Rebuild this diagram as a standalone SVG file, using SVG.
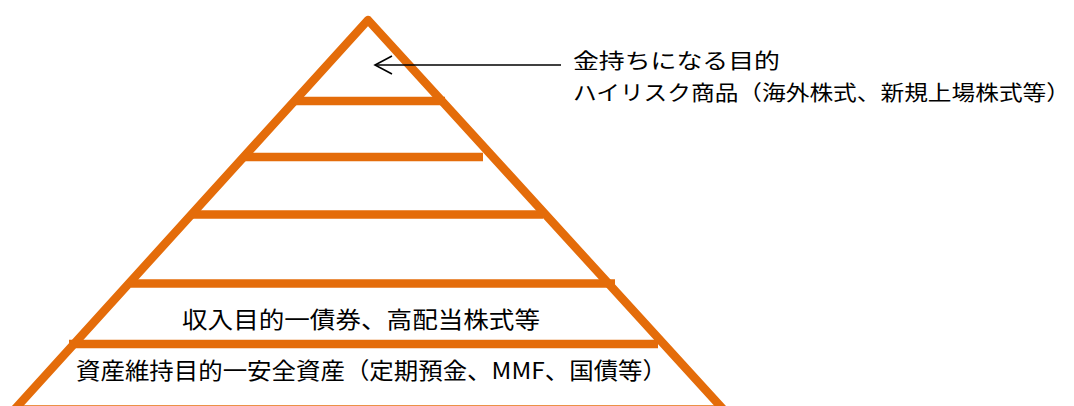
<svg xmlns="http://www.w3.org/2000/svg" width="1074" height="406" viewBox="0 0 1074 406">
  <style>
    .o { stroke: #E46C0A; stroke-width: 8.5; fill: none; }
    .t { font-family: "Noto Sans CJK JP", "Noto Sans CJK SC", sans-serif; fill: #000; }
    .lbl { font-size: 21px; }
    .big { font-size: 23px; }
  </style>
  <defs>
    <marker id="arr" markerWidth="20" markerHeight="20" refX="18" refY="10" orient="auto" markerUnits="userSpaceOnUse">
      <path d="M1,1 L18,10 L1,19" fill="none" stroke="#000" stroke-width="1.6"/>
    </marker>
  </defs>
  <rect width="1074" height="406" fill="#fff"/>
  <g id="pyramid">
    <polyline class="o" points="5,420 368,20 733,420" stroke-linejoin="round"/>
    <line class="o" x1="293" y1="101" x2="445" y2="101"/>
    <line class="o" x1="243" y1="157" x2="483" y2="157"/>
    <line class="o" x1="192" y1="214.5" x2="543" y2="214.5"/>
    <line class="o" x1="131" y1="283.5" x2="615" y2="283.5"/>
    <line class="o" x1="69" y1="344" x2="658" y2="344"/>
    <line class="o" x1="14" y1="409.5" x2="725" y2="409.5"/>
  </g>
  <g id="layer-income">
    <text class="t big" x="182" y="328" textLength="358" lengthAdjust="spacingAndGlyphs">収入目的一債券、高配当株式等</text>
  </g>
  <g id="layer-preserve">
    <text class="t big" x="76" y="379" textLength="591" lengthAdjust="spacingAndGlyphs">資産維持目的一安全資産（定期預金、MMF、国債等）</text>
  </g>
  <g id="callout">
    <text class="t lbl" x="573" y="68" textLength="207" lengthAdjust="spacingAndGlyphs">金持ちになる目的</text>
    <text class="t lbl" x="573" y="100" textLength="497" lengthAdjust="spacingAndGlyphs">ハイリスク商品（海外株式、新規上場株式等）</text>
  </g>
  <g id="connectors">
    <line x1="561" y1="65" x2="375" y2="65" stroke="#000" stroke-width="1.4" marker-end="url(#arr)"/>
  </g>
</svg>
